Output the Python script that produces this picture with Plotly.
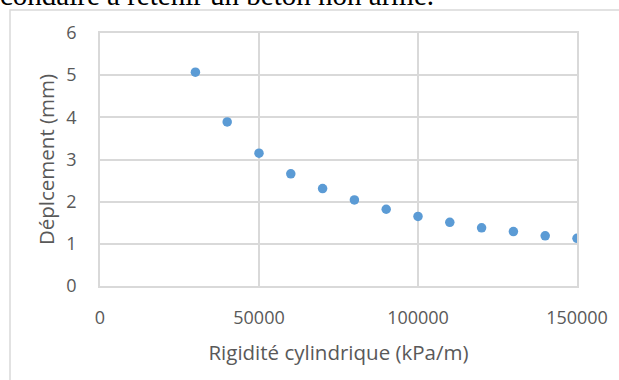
import plotly.graph_objects as go

rigidite = [30000, 40000, 50000, 60000, 70000, 80000, 90000, 100000, 110000, 120000, 130000, 140000, 150000]
deplacement = [5.07, 3.89, 3.15, 2.66, 2.31, 2.04, 1.82, 1.65, 1.51, 1.38, 1.29, 1.19, 1.13]
x_ticks = [0, 50000, 100000, 150000]
y_ticks = [0, 1, 2, 3, 4, 5, 6]

W, H = 619, 380
L, R, T, B = 100, 42, 33, 94
pw, ph = W - L - R, H - T - B

def px_x(p):
    return (p - L) / pw

def px_y(p):
    return (H - B - p) / ph

FONT = "Open Sans"
GRAY = "#595959"
GRID = "#d9d9d9"

fig = go.Figure()
fig.add_trace(go.Scatter(
    x=rigidite, y=deplacement, mode="markers",
    marker=dict(color="#5b9bd5", size=9.5, line=dict(width=0)),
    showlegend=False,
))

fig.update_layout(
    width=W, height=H,
    margin=dict(l=L, r=R, t=T, b=B),
    paper_bgcolor="white", plot_bgcolor="white",
    font=dict(family=FONT, color=GRAY, size=16),
    xaxis=dict(
        range=[0, 150000], tickvals=x_ticks, ticktext=[str(v) for v in x_ticks],
        showgrid=True, gridcolor=GRID, gridwidth=1.5,
        showline=True, linecolor=GRID, linewidth=1.5, mirror=True,
        zeroline=False, ticks="", ticklabelstandoff=15,
        tickfont=dict(size=18, family=FONT, color=GRAY),
        title=dict(text="Rigidité cylindrique (kPa/m)", standoff=17,
                   font=dict(size=20.5, family=FONT, color=GRAY)),
    ),
    yaxis=dict(
        range=[0, 6], tickvals=y_ticks,
        showgrid=True, gridcolor=GRID, gridwidth=1.5,
        showline=True, linecolor=GRID, linewidth=1.5, mirror=True,
        zeroline=False, ticks="", ticklabelstandoff=18,
        tickfont=dict(size=18, family=FONT, color=GRAY),
        title=dict(text="Déplcement (mm)", standoff=6,
                   font=dict(size=20.5, family=FONT, color=GRAY)),
    ),
    shapes=[dict(
        type="rect", xref="paper", yref="paper",
        x0=px_x(10), x1=px_x(W + 20), y0=px_y(H + 20), y1=px_y(10),
        line=dict(color=GRID, width=1.5), fillcolor="rgba(0,0,0,0)", layer="below",
    )],
    annotations=[dict(
        text="condaire à retenir un béton non armé.",
        xref="paper", yref="paper", x=px_x(-2), y=px_y(13),
        xanchor="left", yanchor="bottom", showarrow=False,
        font=dict(family="Liberation Serif", size=29, color="black"),
    )],
)

fig.write_html("out.html")
